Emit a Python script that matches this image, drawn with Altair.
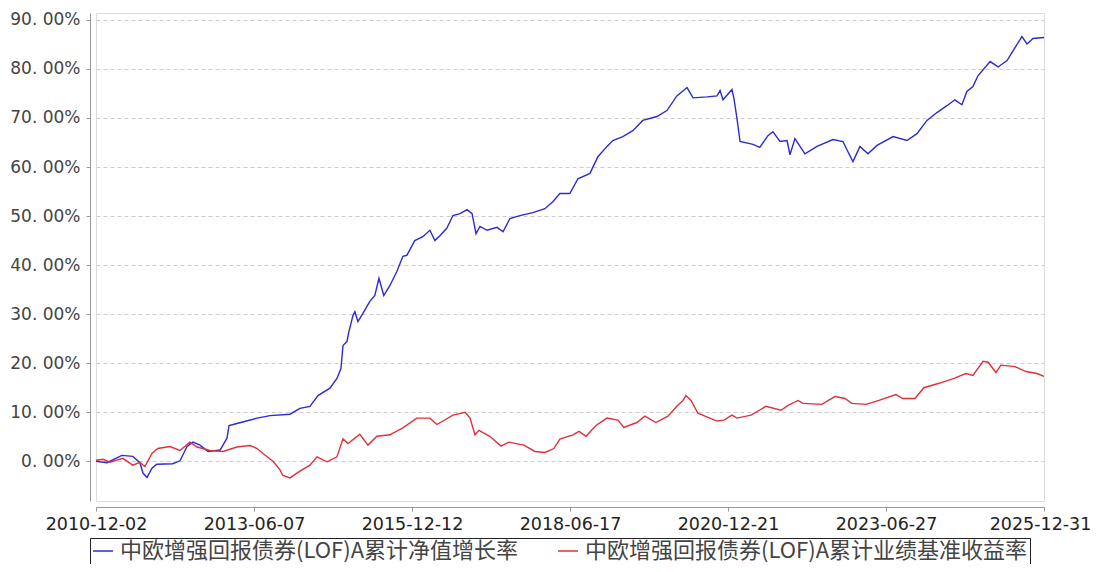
import altair as alt
import pandas as pd

SERIES = ["中欧增强回报债券(LOF)A累计净值增长率", "中欧增强回报债券(LOF)A累计业绩基准收益率"]
COLORS = ["#2b2bd0", "#e0303a"]

blue_dates = [
    "2010-12-02", "2011-02-04", "2011-05-01", "2011-07-04", "2011-08-14", "2011-09-01",
    "2011-09-24", "2011-10-23", "2011-11-20", "2012-02-21", "2012-04-03", "2012-05-14",
    "2012-06-18", "2012-07-28", "2012-09-13", "2012-11-22", "2013-01-01", "2013-01-13",
    "2013-02-28", "2013-06-25", "2013-09-08", "2014-01-02", "2014-03-01", "2014-04-28",
    "2014-06-14", "2014-08-22", "2014-10-02", "2014-10-25", "2014-11-06", "2014-11-29",
    "2014-12-10", "2015-01-03", "2015-01-14", "2015-02-01", "2015-03-01", "2015-04-11",
    "2015-05-10", "2015-06-03", "2015-07-01", "2015-08-05", "2015-09-15", "2015-10-20",
    "2015-11-12", "2015-12-28", "2016-02-13", "2016-03-25", "2016-04-23", "2016-05-22",
    "2016-07-01", "2016-08-06", "2016-09-16", "2016-10-27", "2016-11-25", "2016-12-18",
    "2017-01-10", "2017-02-20", "2017-04-19", "2017-05-24", "2017-07-03", "2017-08-30",
    "2017-11-13", "2018-01-22", "2018-03-09", "2018-04-19", "2018-06-16", "2018-08-02",
    "2018-10-11", "2018-11-26", "2019-01-18", "2019-02-21", "2019-04-20", "2019-06-17",
    "2019-08-14", "2019-11-04", "2020-01-01", "2020-02-28", "2020-04-27", "2020-06-01",
    "2020-08-21", "2020-10-18", "2020-11-05", "2020-11-22", "2021-01-13", "2021-01-25",
    "2021-02-11", "2021-03-01", "2021-05-15", "2021-06-24", "2021-08-10", "2021-09-08",
    "2021-10-19", "2021-11-29", "2021-12-16", "2022-01-14", "2022-03-13", "2022-05-22",
    "2022-08-23", "2022-10-20", "2022-11-18", "2022-12-17", "2023-01-27", "2023-03-14",
    "2023-05-06", "2023-08-07", "2023-10-27", "2023-12-24", "2024-02-20", "2024-04-18",
    "2024-06-15", "2024-07-31", "2024-09-10", "2024-10-09", "2024-11-13", "2024-12-12",
    "2025-02-21", "2025-04-08", "2025-05-30", "2025-07-04", "2025-08-25", "2025-09-23",
    "2025-10-28", "2025-12-31",
]
blue_values = [
    0.0, -0.3, 1.2, 1.0, -0.3, -2.4,
    -3.3, -1.4, -0.6, -0.5, 0.1, 3.0,
    3.9, 3.3, 2.0, 2.3, 4.7, 7.3,
    7.7, 8.8, 9.3, 9.6, 10.8, 11.2,
    13.4, 14.9, 16.9, 18.9, 23.6, 24.4,
    26.4, 29.7, 30.5, 28.5, 30.1, 32.6,
    33.8, 37.3, 33.8, 35.8, 38.7, 41.8,
    42.0, 45.0, 45.8, 47.1, 45.0, 46.0,
    47.5, 50.1, 50.5, 51.3, 50.5, 46.4,
    47.9, 47.1, 47.7, 46.8, 49.5, 50.1,
    50.7, 51.5, 52.9, 54.6, 54.6, 57.6,
    58.7, 62.1, 64.2, 65.4, 66.2, 67.4,
    69.5, 70.3, 71.5, 74.5, 76.2, 74.1,
    74.3, 74.5, 75.6, 73.7, 75.8, 73.9,
    69.9, 65.2, 64.6, 64.0, 66.4, 67.2,
    65.2, 65.4, 62.5, 65.8, 62.7, 64.2,
    65.6, 65.2, 63.1, 61.1, 64.2, 62.7,
    64.4, 66.2, 65.4, 66.8, 69.5, 71.1,
    72.5, 73.7, 72.7, 75.4, 76.4, 78.6,
    81.5, 80.4, 81.7, 83.7, 86.6, 85.1,
    86.2, 86.4,
]

red_dates = [
    "2010-12-02", "2011-01-11", "2011-02-21", "2011-05-07", "2011-07-04", "2011-08-14",
    "2011-09-12", "2011-10-23", "2011-11-26", "2012-02-04", "2012-04-03", "2012-05-31",
    "2012-07-11", "2012-09-24", "2012-12-09", "2013-02-28", "2013-05-15", "2013-06-25",
    "2013-07-29", "2013-09-25", "2013-11-04", "2013-11-22", "2014-01-02", "2014-03-01",
    "2014-04-28", "2014-06-08", "2014-08-05", "2014-10-02", "2014-11-06", "2014-12-05",
    "2015-02-12", "2015-03-31", "2015-05-22", "2015-08-05", "2015-10-20", "2016-01-09",
    "2016-03-25", "2016-05-05", "2016-08-06", "2016-10-16", "2016-11-13", "2016-12-12",
    "2017-01-04", "2017-03-08", "2017-05-12", "2017-06-27", "2017-09-22", "2017-11-25",
    "2018-01-22", "2018-03-15", "2018-04-19", "2018-07-04", "2018-08-08", "2018-09-18",
    "2018-11-15", "2019-01-18", "2019-03-22", "2019-04-26", "2019-07-10", "2019-08-26",
    "2019-10-29", "2020-01-07", "2020-02-28", "2020-04-03", "2020-04-21", "2020-05-20",
    "2020-06-29", "2020-08-09", "2020-10-18", "2020-11-28", "2021-01-13", "2021-02-11",
    "2021-05-04", "2021-07-29", "2021-10-25", "2021-12-05", "2022-02-01", "2022-03-01",
    "2022-06-19", "2022-09-03", "2022-10-31", "2022-12-11", "2023-03-03", "2023-05-17",
    "2023-08-24", "2023-10-03", "2023-12-12", "2024-02-02", "2024-04-30", "2024-07-26",
    "2024-10-03", "2024-11-13", "2025-01-11", "2025-02-09", "2025-03-27", "2025-04-25",
    "2025-07-15", "2025-09-17", "2025-11-20", "2025-12-31",
]
red_values = [
    0.2, 0.4, -0.2, 0.6, -0.8, -0.2,
    -1.1, 1.6, 2.6, 3.0, 2.2, 3.9,
    2.9, 2.2, 2.0, 2.9, 3.2, 2.6,
    1.6, 0.0, -1.7, -2.9, -3.4, -2.0,
    -0.8, 0.9, -0.1, 0.9, 4.6, 3.6,
    5.5, 3.3, 5.1, 5.4, 6.8, 8.8,
    8.8, 7.5, 9.4, 10.0, 8.8, 5.4,
    6.3, 5.1, 3.1, 3.9, 3.3, 2.0,
    1.8, 2.6, 4.5, 5.4, 6.1, 5.1,
    7.3, 8.8, 8.4, 6.9, 7.9, 9.2,
    7.9, 9.2, 11.2, 12.4, 13.4, 12.4,
    9.8, 9.2, 8.2, 8.4, 9.4, 8.8,
    9.4, 11.2, 10.4, 11.4, 12.4, 11.8,
    11.6, 13.2, 12.8, 11.8, 11.6, 12.4,
    13.6, 12.8, 12.8, 15.0, 15.9, 16.9,
    17.9, 17.5, 20.4, 20.2, 18.1, 19.6,
    19.3, 18.3, 17.9, 17.3,
]

x_ticks = ["2010-12-02", "2013-06-07", "2015-12-12", "2018-06-17",
           "2020-12-21", "2023-06-27", "2025-12-31"]
y_ticks = [0, 10, 20, 30, 40, 50, 60, 70, 80, 90]

df = pd.concat([
    pd.DataFrame({"date": blue_dates, "value": blue_values, "series": SERIES[0]}),
    pd.DataFrame({"date": red_dates, "value": red_values, "series": SERIES[1]}),
], ignore_index=True)


def dt(s):
    y, m, d = (int(p) for p in s.split("-"))
    return alt.DateTime(year=y, month=m, date=d, utc=True)


FONT = "Noto Sans CJK SC"

chart = alt.Chart(df).mark_line(strokeWidth=1.4).encode(
    x=alt.X(
        "date:T",
        scale=alt.Scale(type="utc", domain=[dt(x_ticks[0]), dt(x_ticks[-1])]),
        axis=alt.Axis(
            values=[dt(t) for t in x_ticks],
            labelExpr="utcFormat(datum.value, '%Y-%m-%d')",
            title=None,
            grid=False,
            offset=6,
            domainColor="#999999",
            tickColor="#999999",
            tickSize=4,
            labelPadding=4,
            labelFontSize=17.5,
            labelFont="DejaVu Sans",
            labelColor="#222222",
            labelOverlap=False,
            labelFlush=False,
            labelOffset={"expr": "datum.value > 1735689600000 ? -4 : 0"},
        ),
    ),
    y=alt.Y(
        "value:Q",
        scale=alt.Scale(domain=[-8.1, 91.4], nice=False, zero=False),
        axis=alt.Axis(
            values=y_ticks,
            labelExpr="replace(format(datum.value, '.2f'), '.', '. ') + '%'",
            title=None,
            grid=True,
            gridColor="#cccccc",
            gridDash=[4, 3],
            offset=6,
            domainColor="#999999",
            tickColor="#999999",
            tickSize=4,
            labelPadding=6,
            labelFontSize=17,
            labelFont="DejaVu Sans",
            labelColor="#444444",
        ),
    ),
    color=alt.Color(
        "series:N",
        scale=alt.Scale(domain=SERIES, range=COLORS),
        sort=SERIES,
        legend=alt.Legend(
            title=None,
            orient="none",
            legendX=-6,
            legendY=525,
            direction="horizontal",
            symbolType="stroke",
            symbolSize=400,
            symbolStrokeWidth=1.5,
            labelFont=FONT,
            labelFontSize=22,
            labelColor="#444444",
            labelLimit=600,
            labelOffset=6,
            columnPadding=36,
            symbolOffset=0,
            padding=2,
            strokeColor="#222222",
            offset=0,
        ),
    ),
).properties(
    width=948,
    height=488,
    autosize=alt.AutoSizeParams(type="none"),
    padding={"left": 88, "top": 5, "right": 48, "bottom": 63},
).configure_view(
    stroke="#999999",
    strokeWidth=1.5,
).configure(
    background="white",
)

chart.save("out.html", embed_options={"renderer": "svg", "actions": False})
